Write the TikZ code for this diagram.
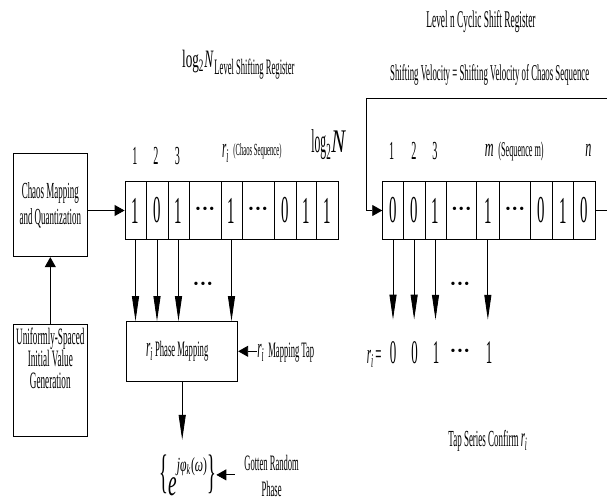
\documentclass[tikz,border=0pt]{standalone}
\usepackage{fontspec}
\usepackage{graphicx}
\setmainfont[FakeStretch=0.39]{Liberation Serif}
\newfontfamily\uf{Liberation Serif}
\usetikzlibrary{arrows.meta}
\newcommand{\fs}[1]{\fontsize{#1}{#1}\selectfont}
\newcommand{\fsz}[2]{\fontsize{#1}{#2}\selectfont}
\newcommand{\wide}[2]{\scalebox{#1}[1]{#2}}
\newcommand{\dotsrow}{{\uf\fs{14}•\kern2pt•\kern2pt•}}
\newcommand{\ri}[1]{{\fs{#1}\textit{r}\textsubscript{\textit{i}}}}
\begin{document}
\begin{tikzpicture}[x=1pt,y=-1pt,
  line width=0.9pt,
  box/.style={draw, align=center, inner sep=0pt},
  cell/.style={draw, minimum height=58pt, inner sep=0pt, font=\fs{38}},
  varr/.style={-{Triangle[length=25pt,width=7pt]}},
  harr/.style={-{Triangle[length=10pt,width=11pt]}},
  lbl/.style={inner sep=0pt, anchor=base},
  lblw/.style={inner sep=0pt, anchor=base west},
  val/.style={inner sep=0pt, anchor=base, font=\fs{33}},
]
\useasboundingbox (0,0) rectangle (607,502);

% titles
\node[lblw] (T1a) at (181.7,68) {\wide{1.35}{\fs{25}log\textsubscript{2}\textit{N}}};
\node[lblw] (T1b) at (214,75) {\fs{22}Level Shifting Register};
\node[lbl] (T2) at (481,28) {\fs{24}Level n Cyclic Shift Register};
\node[lbl] (T3) at (489.7,81) {\fs{22.6}Shifting Velocity = Shifting Velocity of Chaos Sequence};

% left blocks
\node[box, minimum width=74pt, minimum height=103.4pt, font=\fsz{23}{26}] (CM) at (50.3,205) {Chaos Mapping\\and Quantization};
\node[box, minimum width=74pt, minimum height=112.4pt, font=\fsz{23.5}{22}, text depth=45pt] (UI) at (50.3,380.5) {Uniformly-Spaced\\Initial Value\\Generation};

% left register
\node[cell, minimum width=21pt] (L1) at (135.5,210.5) {1};
\node[cell, minimum width=22pt] (L2) at (157,210.5) {0};
\node[cell, minimum width=21pt] (L3) at (178.5,210.5) {1};
\node[cell, minimum width=32pt] (L4) at (205,210.5) {\dotsrow};
\node[cell, minimum width=21pt] (L5) at (231.5,210.5) {1};
\node[cell, minimum width=32pt] (L6) at (258,210.5) {\dotsrow};
\node[cell, minimum width=22pt] (L7) at (285,210.5) {0};
\node[cell, minimum width=20pt] (L8) at (306,210.5) {1};
\node[cell, minimum width=22pt] (L9) at (327,210.5) {1};

\node[lbl] (N1) at (135,165) {\fs{26}1};
\node[lbl] (N2) at (155.8,165) {\fs{26}2};
\node[lbl] (N3) at (177.5,165) {\fs{26}3};
\node[lblw] (RIa) at (221.7,158) {\ri{28}};
\node[lblw] (CS) at (233,156) {\fs{17}(Chaos Sequence)};
\node[lblw] (LN) at (311,153) {\fs{33}\wide{0.9}{log}\textsubscript{2}\wide{1.6}{\textit{N}}};

% phase mapping
\node[box, minimum width=111pt, minimum height=59.3pt] (PM) at (182.2,351.3) {\ri{28}\fs{22} Phase Mapping\hspace{10pt}};
\node[lblw] (MT) at (257,357) {\ri{28}\hspace{4pt}\fs{22}Mapping Tap};
\node[lbl] (DL) at (203,288) {\dotsrow};

\node[inner sep=0pt, anchor=base west] (EX) at (159,487) {{\fs{47}\{}\raisebox{-8pt}{\wide{1.3}{\fs{38}\textit{e}}}\raisebox{16pt}{\wide{1.5}{\fs{20}\textit{jφ}\textsubscript{\textit{k}}(\textit{ω})}}{\fs{47}\}}};
\node[inner sep=0pt, align=center, font=\fsz{22}{26}] (GR) at (271.6,475.5) {Gotten Random\\Phase};

% right register
\node[cell, minimum width=20.6pt] (R1) at (393,210.5) {0};
\node[cell, minimum width=21.7pt] (R2) at (414.15,210.5) {0};
\node[cell, minimum width=21pt] (R3) at (435.5,210.5) {1};
\node[cell, minimum width=30.7pt] (R4) at (461.35,210.5) {\dotsrow};
\node[cell, minimum width=22.3pt] (R5) at (487.85,210.5) {1};
\node[cell, minimum width=31.7pt] (R6) at (514.85,210.5) {\dotsrow};
\node[cell, minimum width=21.6pt] (R7) at (541.5,210.5) {0};
\node[cell, minimum width=21pt] (R8) at (562.8,210.5) {1};
\node[cell, minimum width=21.7pt] (R9) at (584.15,210.5) {0};

\node[lbl] (M1) at (391.7,160) {\fs{26}1};
\node[lbl] (M2) at (414,160) {\fs{26}2};
\node[lbl] (M3) at (435,160) {\fs{26}3};
\node[lbl] (Mm) at (489.2,157) {\wide{1.2}{\fs{26}\textit{m}}};
\node[lblw] (SM) at (498,157) {\fs{21}(Sequence m)};
\node[lbl] (Mn) at (588.3,157) {\wide{1.2}{\fs{26}\textit{n}}};

% values
\node[inner sep=0pt, anchor=base east] (RIb) at (382,363) {\ri{28}\,{\fs{28}=}};
\node[val] (V1) at (393,363) {0};
\node[val] (V2) at (414.5,363) {0};
\node[val] (V3) at (436,363) {1};
\node[lbl] (VD) at (460,355) {\dotsrow};
\node[val] (V5) at (489,363) {1};
\node[lbl] (DR) at (460,288) {\dotsrow};
\node[lblw] (TS) at (448,446.7) {\fs{23}Tap Series Confirm \ri{27}};

% connectors
\draw[harr] (UI.north) -- (CM.south);
\draw[harr] (CM.east |- L1.west) -- (L1.west);
\foreach \c in {L1,L2,L3,L5} \draw[varr] (\c.south) -- (\c.south |- PM.north);
\draw[harr] (MT.west |- PM.east) -- (PM.east);
\draw[varr, shorten >=14pt] (PM.south) -- (PM.south |- EX.north);
\draw[harr, shorten <=9pt] (GR.west |- EX.east) -- (EX.east);

\coordinate (FBin) at (607,98.7);
\coordinate (FBc) at (366,98.7);
\coordinate (OUT) at (607,210.5);
\draw[harr] (FBin) -- (FBc) |- (R1.west);
\draw (R9.east) -- (OUT);
\draw[varr, shorten >=21pt] (R1.south) -- (R1.south |- V1.north);
\draw[varr, shorten >=21pt] (R2.south) -- (R2.south |- V2.north);
\draw[varr, shorten >=21pt] (R3.south) -- (R3.south |- V3.north);
\draw[varr, shorten >=21pt] (R5.south) -- (R5.south |- V5.north);
\end{tikzpicture}
\end{document}
